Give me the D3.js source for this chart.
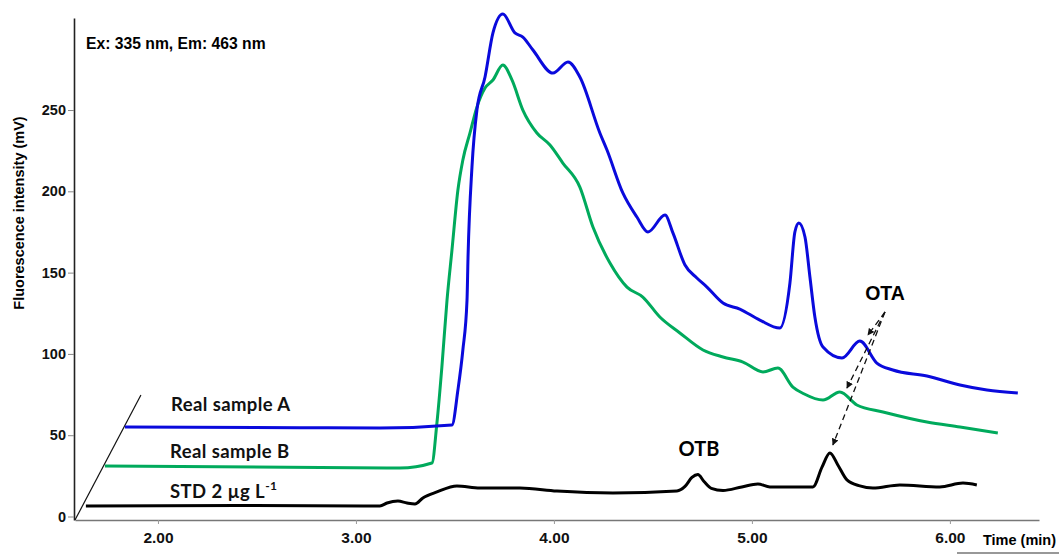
<!doctype html>
<html>
<head>
<meta charset="utf-8">
<script src="https://cdnjs.cloudflare.com/ajax/libs/d3/7.8.5/d3.min.js"></script>
<style>
  body { margin: 0; background: #fff; }
  svg { display: block; }
  .tick text { font-family: "Liberation Sans", Arial, sans-serif; font-weight: bold; fill: #111; }
</style>
</head>
<body>
<svg id="chart" width="1059" height="554"></svg>
<script>
// axis ticks
var timeTicks = [2, 3, 4, 5, 6];
var mvTicks = [0, 50, 100, 150, 200, 250];

// [time (min), intensity (mV)] (offset traces)
var sampleA = [[1.833,55.0],[2.717,54.6],[3.121,54.4],[3.485,56.3],[3.515,77.8],[3.540,102.4],[3.561,133.1],
  [3.566,159.0],[3.586,214.9],[3.611,250.0],[3.652,270.3],[3.692,297.4],[3.742,309.0],[3.803,297.4],
  [3.843,294.9],[3.894,286.9],[3.995,272.7],[4.071,279.5],[4.131,270.3],[4.232,235.9],[4.268,225.4],
  [4.348,199.0],[4.419,184.2],[4.475,175.0],[4.561,185.4],[4.601,174.4],[4.662,154.7],[4.722,146.7],
  [4.773,141.1],[4.854,131.3],[4.939,127.6],[5.040,120.8],[5.141,115.9],[5.192,143.6],[5.217,175.0],
  [5.237,180.5],[5.268,171.9],[5.293,147.3],[5.318,122.7],[5.359,104.2],[5.455,97.5],[5.545,107.9],
  [5.631,94.4],[5.712,90.1],[5.884,86.4],[6.051,80.9],[6.187,77.8],[6.343,76.0]];

var sampleB = [[1.732,31.1],[3.222,29.8],[3.384,32.9],[3.409,57.5],[3.434,91.9],[3.460,133.1],[3.485,163.9],
  [3.515,200.8],[3.540,219.3],[3.576,235.9],[3.611,251.8],[3.652,263.5],[3.692,268.5],[3.742,277.7],
  [3.788,268.5],[3.843,250.0],[3.914,235.9],[3.980,228.5],[4.045,217.4],[4.131,202.6],[4.197,178.0],
  [4.283,155.9],[4.369,141.1],[4.449,135.0],[4.535,122.7],[4.636,112.9],[4.753,102.4],[4.854,98.1],
  [4.955,95.0],[5.056,88.9],[5.131,91.3],[5.207,79.6],[5.262,75.5],[5.359,71.6],[5.444,76.6],
  [5.530,68.6],[5.662,64.3],[5.884,58.1],[6.051,55.0],[6.242,51.3]];

var standard = [[1.636,6.5],[2.4,6.8],[3.121,6.5],[3.157,8.3],[3.212,9.5],[3.258,8.3],[3.298,7.7],
  [3.338,11.4],[3.409,15.1],[3.510,18.8],[3.626,17.5],[3.828,17.5],[4.015,15.7],[4.298,14.5],
  [4.621,15.7],[4.662,18.5],[4.697,24.0],[4.727,25.8],[4.758,21.5],[4.795,17.3],[4.854,16.0],[4.949,18.2],
  [5.030,20.0],[5.091,18.2],[5.308,18.2],[5.354,30.4],[5.394,39.1],[5.434,31.7],[5.480,22.5],
  [5.545,18.8],[5.611,17.5],[5.747,19.4],[5.949,18.2],[6.066,20.6],[6.136,19.4]];

// dashed OTA arrows: start point and three tips
var otaFrom = [5.672, 125.8];
var otaTips = [[5.586, 111.6], [5.480, 79.0], [5.409, 44.0]];
// oblique depth axis
var depthAxis = [[1.581, -2.15], [1.914, 74.7]];

var svg = d3.select("#chart");

var x = d3.scaleLinear().domain([1.581, 6.45]).range([75, 1039]);
var y = d3.scaleLinear().domain([-2.15, 306.6]).range([520, 18]);

// y axis
var yAxis = svg.append("g")
    .attr("transform", "translate(74,0)")
    .call(d3.axisLeft(y).tickValues(mvTicks).tickSize(6).tickPadding(2).tickSizeOuter(0));
yAxis.select(".domain").attr("stroke", "#222").attr("stroke-width", 1.6);
yAxis.selectAll(".tick line").attr("stroke", "#888");
yAxis.selectAll(".tick text").style("font-size", "14.5px");

// x axis
var xAxis = svg.append("g")
    .attr("transform", "translate(0,520)")
    .call(d3.axisBottom(x).tickValues(timeTicks).tickFormat(d3.format(".2f")).tickSize(4).tickPadding(8).tickSizeOuter(0));
xAxis.select(".domain").attr("stroke", "#777").attr("stroke-width", 1.4);
xAxis.selectAll(".tick line").attr("stroke", "#999");
xAxis.selectAll(".tick text").style("font-size", "15.5px");

svg.append("line")
    .attr("x1", x(depthAxis[0][0])).attr("y1", y(depthAxis[0][1]))
    .attr("x2", x(depthAxis[1][0])).attr("y2", y(depthAxis[1][1]))
    .attr("stroke", "#111").attr("stroke-width", 1.2);

// axis titles
svg.append("text")
    .attr("transform", "translate(24,213) rotate(-90)")
    .attr("text-anchor", "middle")
    .style("font-family", "Liberation Sans, Arial, sans-serif")
    .style("font-weight", "bold").style("font-size", "14.5px")
    .text("Fluorescence intensity (mV)");

svg.append("text")
    .attr("x", 983).attr("y", 545)
    .style("font-family", "Liberation Sans, Arial, sans-serif")
    .style("font-weight", "bold").style("font-size", "14.5px")
    .text("Time (min)");
svg.append("line").attr("x1", 957).attr("x2", 1059).attr("y1", 553).attr("y2", 553)
    .attr("stroke", "#333").attr("stroke-width", 1.2);

svg.append("text")
    .attr("x", 86).attr("y", 49)
    .style("font-family", "Liberation Sans, Arial, sans-serif")
    .style("font-weight", "bold").style("font-size", "15.7px")
    .text("Ex: 335 nm, Em: 463 nm");

// traces
var line = d3.line()
    .x(d => x(d[0]))
    .y(d => y(d[1]))
    .curve(d3.curveMonotoneX);

var traces = [
  { data: standard, color: "#000000" },
  { data: sampleB, color: "#00aa5c" },
  { data: sampleA, color: "#0a0adc" }
];

svg.selectAll("path.trace")
  .data(traces)
  .enter().append("path")
    .attr("class", "trace")
    .attr("d", d => line(d.data))
    .attr("fill", "none")
    .attr("stroke", d => d.color)
    .attr("stroke-width", 3)
    .attr("stroke-linejoin", "round");

// trace labels
var lab = svg.append("g")
    .style("font-family", "Lato, 'Noto Sans', sans-serif")
    .style("font-weight", "bold").style("font-size", "18.5px")
    .style("letter-spacing", "0.4px")
    .attr("fill", "#111");
lab.append("text").attr("x", 171).attr("y", 411).text("Real sample A");
lab.append("text").attr("x", 170).attr("y", 458).text("Real sample B");
var std = lab.append("text").attr("x", 170).attr("y", 498);
std.append("tspan").text("STD 2 \u00b5g L");
std.append("tspan").attr("dy", -8).style("font-size", "12px").text("-1");

svg.append("text").attr("x", 699).attr("y", 456).attr("text-anchor", "middle")
    .style("font-family", "Lato, 'Noto Sans', sans-serif")
    .style("font-weight", "bold").style("font-size", "20px")
    .text("OTB");
svg.append("text").attr("x", 885).attr("y", 300).attr("text-anchor", "middle")
    .style("font-family", "Liberation Sans, Arial, sans-serif")
    .style("font-weight", "bold").style("font-size", "19.5px")
    .text("OTA");

// dashed arrows
svg.append("defs").append("marker")
    .attr("id", "arrow")
    .attr("viewBox", "0 0 10 10")
    .attr("refX", 9).attr("refY", 5)
    .attr("markerWidth", 7).attr("markerHeight", 7)
    .attr("markerUnits", "userSpaceOnUse")
    .attr("orient", "auto")
  .append("path").attr("d", "M0,0L10,5L0,10z").attr("fill", "#111");

svg.selectAll("line.ota")
  .data(otaTips)
  .enter().append("line")
    .attr("class", "ota")
    .attr("x1", x(otaFrom[0])).attr("y1", y(otaFrom[1]))
    .attr("x2", d => x(d[0])).attr("y2", d => y(d[1]))
    .attr("stroke", "#111").attr("stroke-width", 1.3)
    .attr("stroke-dasharray", "6,4")
    .attr("marker-end", "url(#arrow)");
</script>
</body>
</html>
